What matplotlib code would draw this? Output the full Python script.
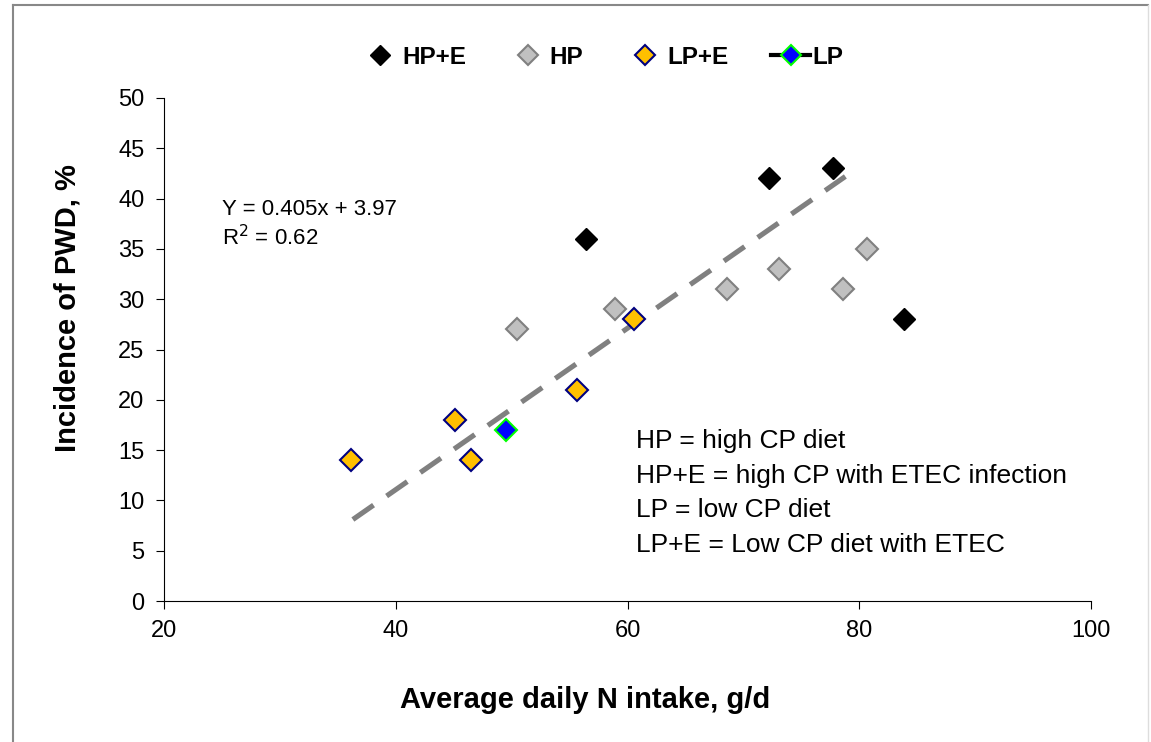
import matplotlib.pyplot as plt
from matplotlib.lines import Line2D

plt.rcParams['font.family'] = ['Liberation Sans', 'DejaVu Sans']

# Data
hpe_x = [56.4, 72.2, 77.7, 83.9]
hpe_y = [36, 42, 43, 28]

hp_x = [50.5, 58.9, 68.6, 73.1, 78.6, 80.7]
hp_y = [27, 29, 31, 33, 31, 35]

lpe_x = [36.1, 45.1, 46.5, 55.6, 60.6]
lpe_y = [14, 18, 14, 21, 28]

lp_x = [49.5]
lp_y = [17]

trend_x = [36.3, 78.8]
trend_y = [8.1, 42.2]

legend_text = ["HP = high CP diet",
               "HP+E = high CP with ETEC infection",
               "LP = low CP diet",
               "LP+E = Low CP diet with ETEC"]

W, H = 1151, 742
fig = plt.figure(figsize=(W / 100, H / 100), dpi=100)
ax = fig.add_axes([164 / W, 1 - 601 / H, (1091 - 164) / W, (601 - 98) / H])

ms = 11.5
ax.plot(trend_x, trend_y, color='#808080', lw=3.7, ls=(0, (4.9, 3.1)), zorder=2)
ax.plot(hpe_x, hpe_y, 'D', color='black', ms=ms, mec='black', ls='none', zorder=3)
ax.plot(hp_x, hp_y, 'D', color='#c0c0c0', ms=ms, mec='#808080', mew=1.5, ls='none', zorder=3)
ax.plot(lpe_x, lpe_y, 'D', color='#ffc000', ms=ms, mec='#000080', mew=1.5, ls='none', zorder=3)
ax.plot(lp_x, lp_y, 'D', color='#0000ff', ms=ms, mec='#00ff00', mew=1.5, ls='none', zorder=4)

ax.set_xlim(20, 100)
ax.set_ylim(0, 50)
ax.set_xticks(range(20, 101, 20))
ax.set_yticks(range(0, 51, 5))
ax.spines['top'].set_visible(False)
ax.spines['right'].set_visible(False)
ax.tick_params(direction='out', length=6, labelsize=17, pad=8)
ax.set_xlabel('Average daily N intake, g/d', fontsize=21, fontweight='bold')
ax.set_ylabel('Incidence of PWD, %', fontsize=21, fontweight='bold')
ax.xaxis.set_label_coords(0.454, -0.168)
ax.yaxis.set_label_coords(-0.089, 0.583)

lms = 10
handles = [
    Line2D([], [], marker='D', color='black', ls='none', ms=lms),
    Line2D([], [], marker='D', color='#c0c0c0', mec='#808080', mew=1.5, ls='none', ms=lms),
    Line2D([], [], marker='D', color='#ffc000', mec='#000080', mew=1.5, ls='none', ms=lms),
    Line2D([], [], marker='D', color='black', mfc='#0000ff', mec='#00ff00', mew=1.5, lw=3, ms=lms),
]
fig.legend(handles, ['HP+E', 'HP', 'LP+E', 'LP'], loc='center', ncol=4,
           bbox_to_anchor=(602 / W, 1 - 57 / H), frameon=False,
           prop={'size': 17.5, 'weight': 'bold'}, handlelength=1.6, handletextpad=0.1,
           columnspacing=1.75)

ax.text(25.0, 38.9, 'Y = 0.405x + 3.97', fontsize=16, va='center')
ax.text(25.0, 36.1, 'R$^2$ = 0.62', fontsize=16, va='center')

for i, t in enumerate(legend_text):
    ax.text(60.7, 15.9 - i * 3.45, t, fontsize=19, va='center')

fig.add_artist(Line2D([13 / W, 13 / W], [0, 1 - 5 / H], color='#888888', lw=1.5))
fig.add_artist(Line2D([13 / W, 1148 / W], [1 - 5 / H, 1 - 5 / H], color='#888888', lw=1.5))
fig.add_artist(Line2D([1148 / W, 1148 / W], [0, 1 - 5 / H], color='#dddddd', lw=1))

fig.savefig('out.png', dpi=100)
